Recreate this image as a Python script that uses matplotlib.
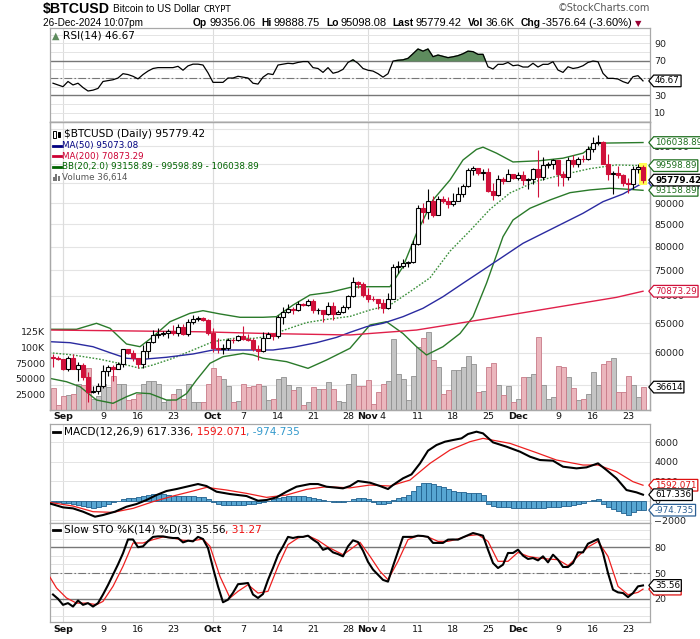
import matplotlib
matplotlib.use("Agg")
import matplotlib.pyplot as plt
import numpy as np
import pandas as pd
from matplotlib.path import Path
from matplotlib.lines import Line2D
from matplotlib.patches import Rectangle
from matplotlib.ticker import FixedLocator, NullLocator, FuncFormatter
from matplotlib.transforms import blended_transform_factory as blend

W, H = 700, 639
START = pd.Timestamp("2024-08-30")

# daily candles, Aug 30 .. Dec 26 2024
opens = [59370, 59120, 58970, 57330, 59120, 57480, 57970, 56160, 53960, 54140,
         54840, 57020, 57650, 57340, 58130, 60570, 60000, 59180, 58210, 60310,
         61760, 62950, 63200, 63350, 63580, 63340, 64260, 63140, 65180, 65790,
         65890, 65640, 63330, 60800, 60630, 60750, 62090, 62060, 62820, 62220,
         62130, 60580, 60270, 62450, 63190, 62850, 66060, 67040, 67610, 67390,
         68410, 68360, 69000, 67370, 67380, 66680, 68160, 66640, 67010, 67930,
         69910, 72720, 72340, 70210, 69480, 69360, 68740, 67810, 69360, 75640,
         75900, 76550, 76700, 80470, 88700, 87950, 90580, 87250, 91070, 90600,
         89850, 90460, 92340, 94340, 98340, 98940, 97690, 97900, 93060, 91990,
         95960, 95660, 97460, 96450, 97190, 95860, 96000, 98770, 96590, 99870,
         99920, 101170, 97340, 96590, 101110, 100040, 101460, 101370, 104300, 106030,
         106140, 100040, 97490, 97760, 97200, 95100, 94690, 98680, 99356.06]
highs = [59850, 59450, 59060, 59400, 59800, 58500, 58300, 56990, 54850, 55300,
         58100, 58040, 57990, 58580, 60630, 60660, 60380, 59210, 61320, 61770,
         63850, 64120, 63560, 64000, 64750, 64810, 64790, 65800, 66480, 66260,
         66080, 65720, 64100, 62360, 61470, 62450, 62360, 62970, 64450, 63200,
         62520, 61270, 63400, 63470, 63270, 66450, 67900, 68390, 67950, 68970,
         68680, 69350, 69470, 67800, 67400, 68800, 68750, 67390, 68200, 70230,
         73560, 72930, 72660, 71570, 69930, 69390, 69480, 70500, 76400, 76940,
         77250, 76880, 81470, 89530, 89940, 93430, 91760, 91850, 91720, 91400,
         92560, 94000, 94830, 98940, 99590, 98960, 98600, 98870, 94940, 97240,
         96580, 98650, 97460, 97840, 98180, 96290, 99000, 103900, 101880, 100550,
         101330, 101200, 98240, 101890, 102540, 101880, 102610, 105050, 107780, 108270,
         106470, 102800, 98100, 99500, 97380, 96400, 99400, 99960, 99888.75]
lows = [57750, 58760, 57250, 57130, 57420, 55610, 55700, 52550, 53740, 53650,
        54590, 56400, 55550, 57330, 57660, 59710, 58700, 57500, 57620, 59210,
        61560, 62390, 62770, 62400, 62970, 62720, 62990, 62700, 64830, 65440,
        65460, 62950, 60160, 59990, 59860, 60460, 61670, 61940, 62170, 61870,
        60300, 58900, 60070, 62450, 62050, 62450, 64820, 66750, 66690, 67180,
        68050, 68160, 66840, 66600, 65260, 66530, 65520, 66600, 66850, 67590,
        69740, 71460, 69690, 68800, 69000, 67460, 66830, 67470, 69320, 74500,
        75560, 75680, 76500, 80250, 85200, 86260, 86670, 87130, 90090, 88780,
        89390, 90390, 91570, 94120, 97200, 97230, 95790, 92640, 90800, 91780,
        94650, 95420, 96170, 95750, 94420, 93580, 94670, 91500, 95760, 99030,
        98700, 94340, 94300, 95680, 99360, 99220, 100630, 101270, 103340, 105320,
        99960, 95700, 92230, 96400, 94200, 92400, 93400, 97600, 95098.08]
closes = [59120, 58970, 57330, 59120, 57480, 57970, 56160, 53960, 54140, 54840,
          57020, 57650, 57340, 58130, 60570, 60000, 59180, 58210, 60310, 61760,
          62950, 63200, 63350, 63580, 63340, 64260, 63140, 65180, 65790, 65890,
          65640, 63330, 60800, 60630, 60750, 62090, 62060, 62820, 62220, 62130,
          60580, 60270, 62450, 63190, 62850, 66060, 67040, 67610, 67390, 68410,
          68360, 69000, 67370, 67380, 66680, 68160, 66640, 67010, 67930, 69910,
          72720, 72340, 70210, 69480, 69360, 68740, 67810, 69360, 75640, 75900,
          76550, 76700, 80470, 88700, 87950, 90580, 87250, 91070, 90600, 89850,
          90460, 92340, 94340, 98340, 98940, 97690, 97900, 93060, 91990, 95960,
          95660, 97460, 96450, 97190, 95860, 96000, 98770, 96590, 99870, 99920,
          101170, 97340, 96590, 101110, 100040, 101460, 101370, 104300, 106030, 106140,
          100040, 97490, 97760, 97200, 95100, 94690, 98680, 99356.06, 95779.42]
volumes = [35000, 8000, 22000, 24000, 26000, 42000, 40000, 67000, 17000, 23000,
           42000, 37000, 55000, 41000, 41000, 16000, 18000, 26000, 41000, 47000,
           46000, 42000, 12000, 16000, 26000, 33000, 17000, 41000, 12000, 12000,
           13000, 42000, 67000, 54000, 50000, 38000, 12000, 15000, 41000, 37000,
           38000, 42000, 38000, 16000, 17000, 50000, 52000, 40000, 32000, 37000,
           8000, 13000, 37000, 33000, 33000, 45000, 33000, 14000, 13000, 42000,
           57000, 38000, 39000, 48000, 10000, 29000, 42000, 47000, 113000, 58000,
           50000, 16000, 55000, 101000, 115000, 124000, 80000, 69000, 26000, 32000,
           64000, 64000, 69000, 87000, 73000, 29000, 31000, 69000, 75000, 40000,
           24000, 39000, 12000, 17000, 52000, 52000, 58000, 116000, 40000, 18000,
           20000, 70000, 69000, 53000, 35000, 16000, 17000, 25000, 60000, 40000,
           74000, 79000, 83000, 29000, 29000, 55000, 40000, 21000, 36614]

# overlays (day offset from Aug 30, value)
ma50_days = [-0.7, 3.4, 8, 11.4, 14.7, 18, 22.7, 28, 32, 36, 40.7, 44, 48, 52.7, 56.7, 59.4,
             62.7, 66, 70, 74, 78, 82, 86, 90, 94, 98, 102, 106, 110, 114, 118]
ma50_vals = [61820, 61650, 60980, 60000, 59100, 58940, 59260, 59790, 60440, 60440, 60440, 60440,
             60880, 61650, 62540, 63400, 64380, 64975, 66150, 67670, 69830, 72420, 75070, 77830,
             80700, 82920, 85200, 87540, 90340, 92240, 95073.08]
ma200_days = [-0.7, 12.7, 29.4, 42.7, 59.4, 72.7, 86, 99.4, 112.7, 118]
ma200_vals = [63800, 63670, 63500, 63200, 62950, 63800, 65670, 67670, 69710, 70873.29]
bbu_days = [-0.7, 4.7, 8.7, 11.4, 14.7, 17.4, 20, 23.4, 27.4, 30, 33.4, 37.4, 42, 44.7, 48, 51.4,
            55.4, 59.4, 62, 67.4, 70, 72.7, 76, 79.4, 82, 84.7, 86, 88.7, 92, 97.4, 102, 106,
            108.7, 118]
bbu_vals = [63930, 63930, 64975, 64100, 61430, 60985, 62660, 65256, 66760, 67237, 66640, 66040,
            66040, 66150, 68270, 70160, 70670, 71600, 71750, 71750, 75750, 82920, 90760, 95810,
            101140, 104080, 104720, 103030, 100600, 100950, 101640, 103030, 105850, 106038.89]
bbl_days = [-0.7, 2.7, 5.4, 8.7, 12, 14.7, 16.7, 19.4, 22.7, 24.7, 26.7, 28.7, 31.4, 34, 38, 40,
            42, 46.7, 51, 54.7, 59.4, 63.4, 66.7, 70, 72.7, 74.7, 78, 81.4, 84, 86.7, 90, 92,
            95.4, 99.4, 103.4, 107.4, 111.4, 115.4, 118]
bbl_vals = [55980, 55460, 54725, 52780, 52310, 53250, 53820, 53700, 52780, 52780, 53700, 55720,
            58300, 59350, 59880, 59630, 59100, 58560, 57510, 58820, 60720, 64680, 65256, 63200,
            60985, 59630, 60985, 63200, 66150, 72420, 82160, 85960, 88740, 90760, 92570, 93260,
            93690, 93400, 93158.89]
bbm_days = [-0.7, 4, 9.4, 14.7, 17.4, 20, 24, 28, 32, 36, 40, 42.7, 46.7, 50.7, 54.7, 59.4,
            63.4, 67.4, 71.4, 75.4, 79.4, 83.4, 87.4, 91.4, 96.7, 102, 107.4, 112.7, 118]
bbm_vals = [60000, 59630, 58940, 58040, 57510, 58040, 59100, 60440, 61820, 62370, 62370, 62660,
            63930, 65100, 65670, 66200, 67360, 68270, 70780, 73500, 79000, 83500, 88500, 92500,
            95500, 97200, 98800, 99790, 99598.89]

# RSI(14), one value per day
rsi = [44, 42, 40, 46, 42, 44, 39, 35, 36, 38,
       46, 47, 48, 50, 55, 54, 52, 49, 54, 58,
       61, 62, 62, 62, 62, 63.5, 59, 64, 66, 66,
       65, 56, 45, 45, 45, 50, 50, 52, 51, 50,
       44, 43, 51, 55, 54, 65, 66, 67, 66.5, 68,
       69, 69, 62, 61, 56.5, 62, 55.5, 57, 60, 68,
       71, 67, 61, 59, 58, 55, 51, 55, 69.6, 70.5,
       71, 72.7, 78, 83.5, 81, 83.5, 74.6, 76.5, 75, 73.5,
       74.5, 75.8, 78, 81, 80.4, 77.3, 77.3, 63, 60.4, 65.8,
       65.8, 68, 64.2, 65, 62.7, 62.7, 67, 62.7, 65.8, 65.8,
       68.8, 59.2, 56.5, 63, 61, 62, 64.2, 68, 69.6, 68.8,
       55.4, 49.6, 49.6, 48.8, 45.8, 43.8, 51.5, 52.7, 46.67]

# MACD(12,26,9)
macd_days = [-0.7, 2, 4, 6, 8.4, 10, 12.4, 14.7, 16.7, 18.7, 20.7, 22.7, 24.7, 26.7, 29, 30.7,
             32.7, 35.4, 38.7, 41, 42.7, 44.7, 46.7, 48.7, 51.4, 53, 54.7, 58, 59.4, 61, 63.4,
             65.4, 67, 68, 70, 71.7, 73.4, 75, 76.7, 78.4, 80, 81.7, 83, 84.7, 86, 88, 90.7,
             93.4, 95.4, 97.4, 100, 102, 104.7, 106.7, 109, 110.7, 112.7, 114.7, 116.7, 118]
macd_vals = [-274, -686, -790, -1130, -1646, -1475, -1130, -617, -343, 70, 583, 995, 1200, 1440,
             1715, 1509, 926, 686, 480, 0, 69, 343, 926, 1440, 1715, 1715, 1440, 1270, 1509,
             2023, 1852, 1509, 1200, 1612, 2300, 2709, 3840, 5144, 5727, 6070, 6241, 6413, 6859,
             7099, 6927, 6000, 5556, 5041, 4527, 4184, 4115, 3498, 3326, 3429, 3840, 3155, 2298,
             1097, 857, 617.336]
sig_days = [-0.7, 4, 8, 12, 16, 20, 24, 28, 30.7, 34.7, 38.7, 42.7, 46.7, 50.7, 54.7, 59.4,
            63.4, 67.4, 71.4, 75.4, 79.4, 83.4, 86, 91.4, 96.7, 100.7, 106, 109, 112.7, 116, 118]
sig_vals = [-170, -550, -1130, -1200, -790, -100, 480, 995, 1370, 1100, 755, 343, 583, 1166,
            1440, 1320, 1612, 1509, 2126, 3840, 5213, 6070, 6413, 5898, 4938, 4184, 3669, 3669,
            2983, 1955, 1592.071]
hist = [-100, -150, -200, -250, -300, -400, -550, -650, -700, -650,
        -550, -350, -150, 0, 150, 250, 300, 350, 450, 550,
        650, 700, 650, 550, 500, 450, 450, 450, 450, 400,
        350, 150, -100, -300, -450, -450, -450, -400, -400, -350,
        -300, -200, -100, 0, 150, 300, 400, 450, 500, 500,
        450, 400, 300, 200, 100, 0, -100, -150, -100, 0,
        150, 300, 250, 150, -150, -300, -350, -250, 100, 250,
        400, 600, 1000, 1500, 1800, 1800, 1700, 1500, 1400, 1200,
        1000, 900, 850, 800, 800, 750, 550, -300, -550, -600,
        -650, -650, -700, -700, -750, -800, -800, -750, -700, -650,
        -650, -600, -550, -500, -450, -300, -200, -50, 50, 150,
        -300, -600, -900, -1100, -1300, -1450, -1200, -1000, -974.735]

# Slow STO %K(14) %D(3)
sto_k = [25, 20, 13, 15, 11, 18, 13, 15, 11, 15,
         25, 36, 48, 60, 73, 89, 89, 80, 81, 87,
         92, 92.6, 92.6, 91.5, 90.7, 90.7, 85.6, 87.6, 86.8, 92,
         89.5, 79, 56, 34.5, 16, 19, 27, 37, 37.6, 38.4,
         25, 21, 25.6, 42, 56, 71, 81, 92, 90.7, 92,
         92, 93.4, 88.8, 85, 77, 79, 74, 72, 69.4, 81,
         88, 86, 76, 63, 54, 48, 42, 40, 58, 75,
         92, 92, 92, 93.4, 93, 92, 85, 85, 85, 88.8,
         89, 88.8, 91.5, 94, 96.5, 95, 93.4, 77, 61.6, 55.8,
         59.7, 73.3, 73.3, 77.1, 70.2, 66.3, 67.4, 64.7, 69.4, 62.4,
         71.3, 65.5, 57, 57, 61.6, 74, 74, 84.1, 86.8, 89.5,
         73.3, 50, 30.6, 27.5, 26.7, 22, 26.7, 34.5, 35.56]
sto_d_days = [-0.7, 0.7, 2.7, 4.7, 6.7, 8.7, 10, 12, 14, 16, 18, 20, 22, 24, 26, 28, 30, 31.4,
              33.4, 35.4, 37, 39, 41, 43, 45, 47, 49, 51, 53, 55, 58, 59.4, 61.4, 63.4, 65.4,
              67, 69, 71, 73, 75, 77, 79, 81, 83, 85, 87, 89, 91, 93, 95, 97, 99, 101, 103,
              105, 107, 109, 111, 113, 115, 117, 118]
sto_d_vals = [46, 32.6, 21, 15, 15, 13.2, 17, 34.5, 57.8, 84.9, 84.9, 88.8, 91.9, 90.7, 88,
              87.6, 89.5, 81, 46, 21, 28.7, 36.4, 26.7, 28.7, 57.8, 83, 90.7, 93.4, 88, 80.2,
              71.3, 77, 85.7, 69.4, 52, 42.2, 63.6, 88.8, 93.4, 91.9, 86.8, 86.8, 89.5, 93.4,
              94.6, 86.8, 63.6, 63.6, 74, 69.4, 67.4, 66.3, 65.5, 58.5, 69.4, 80.2, 86.8, 69.4,
              34.5, 24.8, 27.5, 31.27]

tick_dates = ["2024-09-01", "2024-09-09", "2024-09-16", "2024-09-23", "2024-10-01",
              "2024-10-07", "2024-10-14", "2024-10-21", "2024-10-28", "2024-11-01",
              "2024-11-04", "2024-11-11", "2024-11-18", "2024-11-25", "2024-12-01",
              "2024-12-09", "2024-12-16", "2024-12-23"]
tick_labels = ["Sep", "9", "16", "23", "Oct", "7", "14", "21", "28", "Nov",
               "4", "11", "18", "25", "Dec", "9", "16", "23"]
month_names = ["Sep", "Oct", "Nov", "Dec"]

RED = "#d0103a"
GREEN = "#2a7a2a"
GRID = "#e4e4e4"
SPINE = "#a8a8a8"
REF = "#777777"

plt.rcParams["font.family"] = ["DejaVu Sans"]

o = np.array(opens); h = np.array(highs); l = np.array(lows); c = np.array(closes)
v = np.array(volumes)
days = np.arange(len(c))
up = c >= o
tick_days = [(pd.Timestamp(d) - START).days for d in tick_dates]
month_days = [d for d, lab in zip(tick_days, tick_labels) if lab in month_names]

fig = plt.figure(figsize=(W / 100, H / 100), dpi=100)
L, R = 49.5, 650.0


def panel(top, bottom, **kw):
    return fig.add_axes([L / W, 1 - bottom / H, (R - L) / W, (bottom - top) / H], **kw)


ax_rsi = panel(28.3, 121.5)
ax_vol = panel(121.5, 410.0, sharex=ax_rsi)
ax_px = panel(121.5, 410.0, sharex=ax_rsi)
ax_macd = panel(424.0, 523.3, sharex=ax_rsi)
ax_sto = panel(523.3, 622.3, sharex=ax_rsi)
ax_px.patch.set_visible(False)

for ax in (ax_rsi, ax_vol, ax_px, ax_macd, ax_sto):
    for s in ax.spines.values():
        s.set_color(SPINE)
        s.set_linewidth(0.9)
    ax.tick_params(axis="both", length=0, labelsize=6.8, colors="#222222", pad=3)
    ax.tick_params(axis="x", labelbottom=False)
    ax.xaxis.set_major_locator(NullLocator())
    if ax is not ax_px:
        for d in month_days:
            ax.axvline(d, color="#dcdcdc", lw=0.8, zorder=0)
ax_rsi.set_xlim(-0.7, 119.4)

# ---------------- RSI ----------------
ax_rsi.set_ylim(-0.2, 107.4)
for g in range(0, 101, 10):
    ax_rsi.axhline(g, color=GRID, lw=0.7, zorder=0)
ax_rsi.axhline(70, color=REF, lw=1.0, zorder=1)
ax_rsi.axhline(30, color=REF, lw=1.0, zorder=1)
ax_rsi.axhline(50, color=REF, lw=0.8, ls=(0, (7, 2, 1.5, 2)), zorder=1)
r = np.array(rsi)
ax_rsi.fill_between(days, r, 70, where=r > 70, interpolate=True, color="#5e8c5e", zorder=2)
ax_rsi.plot(days, r, color="black", lw=0.9, zorder=3)
ax_rsi.yaxis.tick_right()
ax_rsi.yaxis.set_major_locator(FixedLocator([10, 30, 50, 70, 90]))

# ---------------- price + volume ----------------
vol_up = c >= o
ax_vol.bar(days[vol_up], v[vol_up], width=1.0, color="#c4c4c4", edgecolor="#8f8f8f", lw=0.6, zorder=2)
ax_vol.bar(days[~vol_up], v[~vol_up], width=1.0, color="#ebb6bd", edgecolor="#c77a88", lw=0.6, zorder=2)
ax_vol.set_ylim(0, 461000)
ax_vol.yaxis.tick_left()
ax_vol.yaxis.set_major_locator(FixedLocator([25000, 50000, 75000, 100000, 125000]))
ax_vol.yaxis.set_major_formatter(FuncFormatter(lambda val, _: f"{val / 1000:.0f}K" if val >= 100000 else f"{val:.0f}"))

ax_px.set_yscale("log")
ax_px.set_ylim(51370, 112260)
grid_tr = blend(ax_vol.transAxes, ax_px.transData)
for p in range(55000, 110001, 5000):
    ax_vol.plot([0, 1], [p, p], transform=grid_tr, color=GRID, lw=0.8, zorder=0)
for d in month_days:
    ax_vol.axvline(d, color="#dcdcdc", lw=0.8, zorder=0)

ax_px.plot(bbu_days, bbu_vals, color=GREEN, lw=1.0, zorder=2)
ax_px.plot(bbl_days, bbl_vals, color=GREEN, lw=1.0, zorder=2)
ax_px.plot(bbm_days, bbm_vals, color="#3a8f3a", lw=1.0, ls=(0, (1.2, 1.2)), zorder=2)
ax_px.plot(ma50_days, ma50_vals, color="#2a2aa0", lw=1.0, zorder=2)
ax_px.plot(ma200_days, ma200_vals, color="#e0204a", lw=1.0, zorder=2)

ax_px.add_patch(Rectangle((days[-1] - 0.8, l[-1] * 0.995), 1.6, h[-1] * 1.005 - l[-1] * 0.995,
                          facecolor="#ffff55", edgecolor="none", zorder=2.5))
ax_px.vlines(days[up], l[up], h[up], color="black", lw=0.8, zorder=3)
ax_px.vlines(days[~up], l[~up], h[~up], color=RED, lw=0.8, zorder=3)
body_lo = np.minimum(o, c)
body_h = np.abs(c - o)
ax_px.bar(days[up], body_h[up], bottom=body_lo[up], width=0.8, facecolor="white",
          edgecolor="black", lw=0.8, zorder=4)
ax_px.bar(days[~up], body_h[~up], bottom=body_lo[~up], width=0.8, facecolor=RED,
          edgecolor=RED, lw=0.8, zorder=4)
ax_px.yaxis.tick_right()
ax_px.yaxis.set_major_locator(FixedLocator(list(range(55000, 105001, 5000))))
ax_px.yaxis.set_minor_locator(NullLocator())
ax_px.yaxis.set_major_formatter(
    FuncFormatter(lambda val, _: "" if val < 57000 or 94000 < val < 101000 else f"{val:.0f}"))
ax_px.tick_params(axis="y", which="both", length=0, labelsize=6.8, pad=3)

# ---------------- MACD ----------------
ax_macd.set_ylim(-2325, 7890)
for g in range(-2000, 6001, 2000):
    ax_macd.axhline(g, color=GRID, lw=0.7, zorder=0)
ax_macd.bar(days, hist, width=1.0, color="#57a6d2", edgecolor="#20608e", lw=0.6, zorder=2)
ax_macd.plot(sig_days, sig_vals, color="#ee2020", lw=0.9, zorder=3)
ax_macd.plot(macd_days, macd_vals, color="black", lw=1.5, zorder=4)
ax_macd.yaxis.tick_right()
ax_macd.yaxis.set_major_locator(FixedLocator([-2000, 0, 2000, 4000, 6000]))

# ---------------- Slow STO ----------------
ax_sto.set_ylim(-7.3, 107.8)
for g in range(0, 101, 10):
    ax_sto.axhline(g, color=GRID, lw=0.7, zorder=0)
ax_sto.axhline(80, color=REF, lw=1.0, zorder=1)
ax_sto.axhline(20, color=REF, lw=1.0, zorder=1)
ax_sto.axhline(50, color=REF, lw=0.8, ls=(0, (7, 2, 1.5, 2)), zorder=1)
ax_sto.plot(sto_d_days, sto_d_vals, color="#ee2020", lw=0.9, zorder=3)
ax_sto.plot(days, sto_k, color="black", lw=1.5, zorder=4)
ax_sto.yaxis.tick_right()
ax_sto.yaxis.set_major_locator(FixedLocator([20, 50, 80]))


# ---------------- value tags on the right ----------------
def tag_shape(x0, y0, width, height, mutation_size):
    pad = 0.15 * mutation_size
    x0, y0 = x0 - pad, y0 - pad
    x1, y1 = x0 + width + 2 * pad, y0 + height + 2 * pad
    tip = x0 - 0.42 * (y1 - y0)
    return Path([(x0, y0), (x1, y0), (x1, y1), (x0, y1), (tip, (y0 + y1) / 2), (x0, y0)],
                closed=True)


TAG_X = (655 - L) / (R - L)


def tag(ax, y, text, color, bold=False, ytrans=None):
    tr = blend(ax.transAxes, ytrans if ytrans is not None else ax.transData)
    ax.text(TAG_X, y, text, transform=tr, ha="left", va="center", fontsize=6.3,
            color=color, fontweight="bold" if bold else "normal",
            bbox=dict(boxstyle=tag_shape, facecolor="white", edgecolor=color, lw=0.9),
            zorder=10, clip_on=False)


tag(ax_rsi, rsi[-1], f"{rsi[-1]:.2f}", "black")
tag(ax_px, ma50_vals[-1], f"{ma50_vals[-1]:.2f}", "#2a2aa0")
tag(ax_px, bbu_vals[-1], f"{bbu_vals[-1]:.2f}", "#1f6f1f")
tag(ax_px, bbm_vals[-1], f"{bbm_vals[-1]:.2f}", "#1f6f1f")
tag(ax_px, bbl_vals[-1], f"{bbl_vals[-1]:.2f}", "#1f6f1f")
tag(ax_px, closes[-1], f"{closes[-1]:.2f}", "black", bold=True)
tag(ax_px, ma200_vals[-1], f"{ma200_vals[-1]:.2f}", "#d0103a")
tag(ax_px, volumes[-1], f"{volumes[-1]}", "black", ytrans=ax_vol.transData)
tag(ax_macd, sig_vals[-1], f"{sig_vals[-1]:.3f}", "#dd1111")
tag(ax_macd, macd_vals[-1], f"{macd_vals[-1]:.3f}", "black")
tag(ax_macd, hist[-1], f"{hist[-1]:.3f}", "#2b5f94")
tag(ax_sto, sto_d_vals[-1], f"{sto_d_vals[-1]:.2f}", "#dd1111")
tag(ax_sto, sto_k[-1], f"{sto_k[-1]:.2f}", "black")

# ---------------- date labels ----------------
for ax, ypix in ((ax_px, 416.7), (ax_sto, 629.0)):
    tr = blend(ax.transData, fig.transFigure)
    for d, lab in zip(tick_days, tick_labels):
        fig.text(d, 1 - ypix / H, lab, transform=tr, ha="center", va="center", fontsize=6.8,
                 fontweight="bold" if lab in month_names else "normal", color="#111111")


# ---------------- legends and header ----------------
def fx(x):
    return x / W


def fy(y):
    return 1 - y / H


renderer = fig.canvas.get_renderer()


def runs(x, y, parts, size, family=("DejaVu Sans",), gap=0.0):
    for text, color, weight in parts:
        t = fig.text(fx(x), fy(y), text, fontsize=size, color=color, fontweight=weight,
                     family=list(family), ha="left", va="center")
        x += t.get_window_extent(renderer).width + gap
    return x


def dash(x0, x1, y, color, lw=2.0):
    fig.add_artist(Line2D([fx(x0), fx(x1)], [fy(y), fy(y)], color=color, lw=lw))


# price panel legend
fig.add_artist(Rectangle((fx(53), fy(138)), 2.5 / W, 7 / H, facecolor="white", edgecolor="black", lw=0.7))
fig.add_artist(Rectangle((fx(57.5), fy(137)), 2.5 / W, 5 / H, facecolor="black", edgecolor="black", lw=0.7))
runs(64, 134.3, [(f"$BTCUSD (Daily) {closes[-1]:.2f}", "black", "normal")], 7.6)
dash(53, 61, 145.7, "#000080")
runs(62.5, 145.7, [(f"MA(50) {ma50_vals[-1]:.2f}", "#000080", "normal")], 6.3)
dash(53, 61, 156.3, "#cc0033")
runs(62.5, 156.3, [(f"MA(200) {ma200_vals[-1]:.2f}", "#cc0033", "normal")], 6.3)
dash(53, 61, 167.0, "#006400")
runs(62.5, 167.0, [(f"BB(20,2.0) {bbl_vals[-1]:.2f} - {bbm_vals[-1]:.2f} - {bbu_vals[-1]:.2f}",
                    "#006400", "normal")], 6.3)
for i, hh in enumerate((4, 7, 5)):
    fig.add_artist(Rectangle((fx(53 + 2.4 * i), fy(181)), 1.8 / W, hh / H, facecolor="#777777",
                             edgecolor="none"))
runs(62.5, 177.7, [(f"Volume {volumes[-1]:,}", "#555555", "normal")], 6.3)

# RSI legend
fig.text(fx(52), fy(35.7), "\u25b2", fontsize=7, color="#5e8c5e", ha="left", va="center")
runs(63, 35.7, [(f"RSI(14) {rsi[-1]:.2f}", "black", "normal")], 7.6)

# MACD legend
dash(53, 60, 431.7, "black")
runs(63.5, 431.7, [(f"MACD(12,26,9) {macd_vals[-1]:.3f}", "black", "normal"),
                   (f", {sig_vals[-1]:.3f}", "#ee1111", "normal"),
                   (f", {hist[-1]:.3f}", "#3399cc", "normal")], 7.6)

# STO legend
dash(53, 60, 530.0, "black")
runs(63.5, 530.0, [(f"Slow STO %K(14) %D(3) {sto_k[-1]:.2f}", "black", "normal"),
                   (f", {sto_d_vals[-1]:.2f}", "#ee1111", "normal")], 7.6)

HDR = ["Liberation Sans", "DejaVu Sans"]
x_end = runs(43, 9, [("$BTCUSD", "black", "bold")], 10.2, family=HDR, gap=3)
x_end = runs(x_end, 9.5, [("Bitcoin to US Dollar", "black", "normal")], 7.2, family=HDR, gap=4)
runs(x_end, 10, [("CRYPT", "black", "normal")], 6.3)
fig.text(fx(650), fy(8), "\u00a9StockCharts.com", fontsize=7, color="#555555",
         family=["DejaVu Sans"], ha="right", va="center")
fig.text(fx(43), fy(23.5), "26-Dec-2024 10:07pm", fontsize=7.2, family=HDR, va="center")
header_parts = [("Op", "99356.06"), ("Hi", "99888.75"), ("Lo", "95098.08"),
                ("Last", "95779.42"), ("Vol", "36.6K"), ("Chg", "-3576.64 (-3.60%)")]
hx = 193
for lab, val in header_parts:
    hx = runs(hx, 23.5, [(lab, "black", "bold")], 7.4, family=HDR, gap=2)
    hx = runs(hx, 23.5, [(val, "black", "normal")], 8.0, family=HDR, gap=6)
fig.text(fx(hx - 3), fy(24), "\u25bc", fontsize=6, color="#990033", family=["DejaVu Sans"], va="center")

fig.savefig("out.png", dpi=100, facecolor="white")
